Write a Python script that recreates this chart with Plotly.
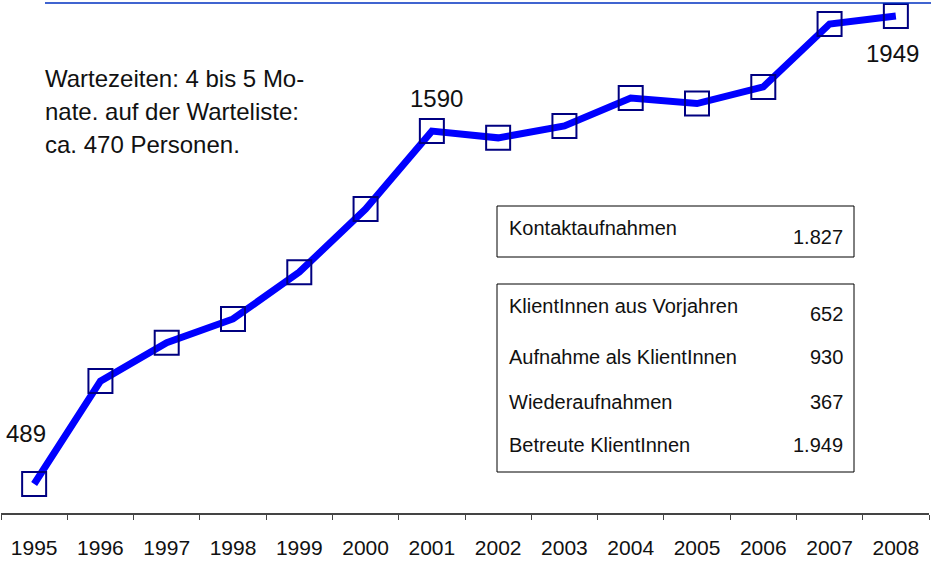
import plotly.graph_objects as go

years = ["1995", "1996", "1997", "1998", "1999", "2000", "2001",
         "2002", "2003", "2004", "2005", "2006", "2007", "2008"]
values = [489, 810, 930, 1004, 1150, 1347, 1590,
          1569, 1606, 1693, 1676, 1728, 1924, 1949]

labelled_years = ["1995", "2001", "2008"]
labelled_values = [489, 1590, 1949]

box1_labels = ["Kontaktaufnahmen"]
box1_values = ["1.827"]
box2_labels = ["KlientInnen aus Vorjahren", "Aufnahme als KlientInnen",
               "Wiederaufnahmen", "Betreute KlientInnen"]
box2_values = ["652", "930", "367", "1.949"]

note_lines = ["Wartezeiten: 4 bis 5 Mo-",
              "nate. auf der Warteliste:",
              "ca. 470 Personen."]

W, H = 931, 562
ML, MR, MT, MB = 1, 2, 0, 49
PW, PH = W - ML - MR, H - MT - MB


def px(x):
    return (x - ML) / PW


def py(y):
    return (H - MB - y) / PH


FONT = "Liberation Sans"

fig = go.Figure()
fig.add_trace(go.Scatter(
    x=years, y=values, mode="lines+markers",
    line=dict(color="#0000FF", width=7),
    marker=dict(symbol="square-open", size=24, color="#000080",
                line=dict(color="#000080", width=2)),
    cliponaxis=False, showlegend=False, hoverinfo="x+y",
))

shifts = [(-8, 50), (5, 33), (-3, -37)]
for yr, v, (dx, dy) in zip(labelled_years, labelled_values, shifts):
    fig.add_annotation(x=years.index(yr), y=v, xref="x", yref="y", text=str(v),
                       showarrow=False, xshift=dx, yshift=dy,
                       font=dict(family=FONT, size=24, color="#111"))

shapes = [
    dict(type="line", xref="paper", yref="paper", x0=px(45), x1=px(931),
         y0=py(3), y1=py(3), line=dict(color="#0030C0", width=1.5)),
    dict(type="rect", xref="paper", yref="paper", x0=px(497), x1=px(854),
         y0=py(257), y1=py(206), line=dict(color="#000", width=1)),
    dict(type="rect", xref="paper", yref="paper", x0=px(497), x1=px(854),
         y0=py(472), y1=py(284), line=dict(color="#000", width=1)),
]

annots = []
for i, line in enumerate(note_lines):
    annots.append(dict(xref="paper", yref="paper", x=px(43), y=py([78, 111, 144][i]),
                       xanchor="left", yanchor="middle", showarrow=False, text=line,
                       font=dict(family=FONT, size=24, color="#111")))

rows1 = [(228, 237)]
for (ly, vy), lab, val in zip(rows1, box1_labels, box1_values):
    annots.append(dict(xref="paper", yref="paper", x=px(507), y=py(ly), xanchor="left",
                       yanchor="middle", showarrow=False, text=lab,
                       font=dict(family=FONT, size=20, color="#111")))
    annots.append(dict(xref="paper", yref="paper", x=px(845), y=py(vy), xanchor="right",
                       yanchor="middle", showarrow=False, text=val,
                       font=dict(family=FONT, size=20, color="#111")))

rows2 = [(306, 314), (357, 357), (402, 402), (445, 445)]
for (ly, vy), lab, val in zip(rows2, box2_labels, box2_values):
    annots.append(dict(xref="paper", yref="paper", x=px(507), y=py(ly), xanchor="left",
                       yanchor="middle", showarrow=False, text=lab,
                       font=dict(family=FONT, size=20, color="#111")))
    annots.append(dict(xref="paper", yref="paper", x=px(845), y=py(vy), xanchor="right",
                       yanchor="middle", showarrow=False, text=val,
                       font=dict(family=FONT, size=20, color="#111")))

for a in annots:
    fig.add_annotation(**a)

fig.update_layout(
    width=W, height=H,
    margin=dict(l=ML, r=MR, t=MT, b=MB, pad=0),
    paper_bgcolor="white", plot_bgcolor="white",
    shapes=shapes,
    xaxis=dict(type="category", range=[-0.5, 13.5], showgrid=False, zeroline=False,
               showline=True, linecolor="#444", linewidth=1.5,
               ticks="outside", ticklen=5, tickcolor="#444", tickwidth=1,
               tickson="boundaries", ticklabelstandoff=15,
               tickfont=dict(family=FONT, size=21, color="#111")),
    yaxis=dict(range=[398.5, 1999.1], visible=False, showgrid=False, zeroline=False),
)

fig.write_html("out.html",
               config={"displayModeBar": False},
               post_script="document.body.style.margin='0px';"
                           "document.body.style.overflow='hidden';")
